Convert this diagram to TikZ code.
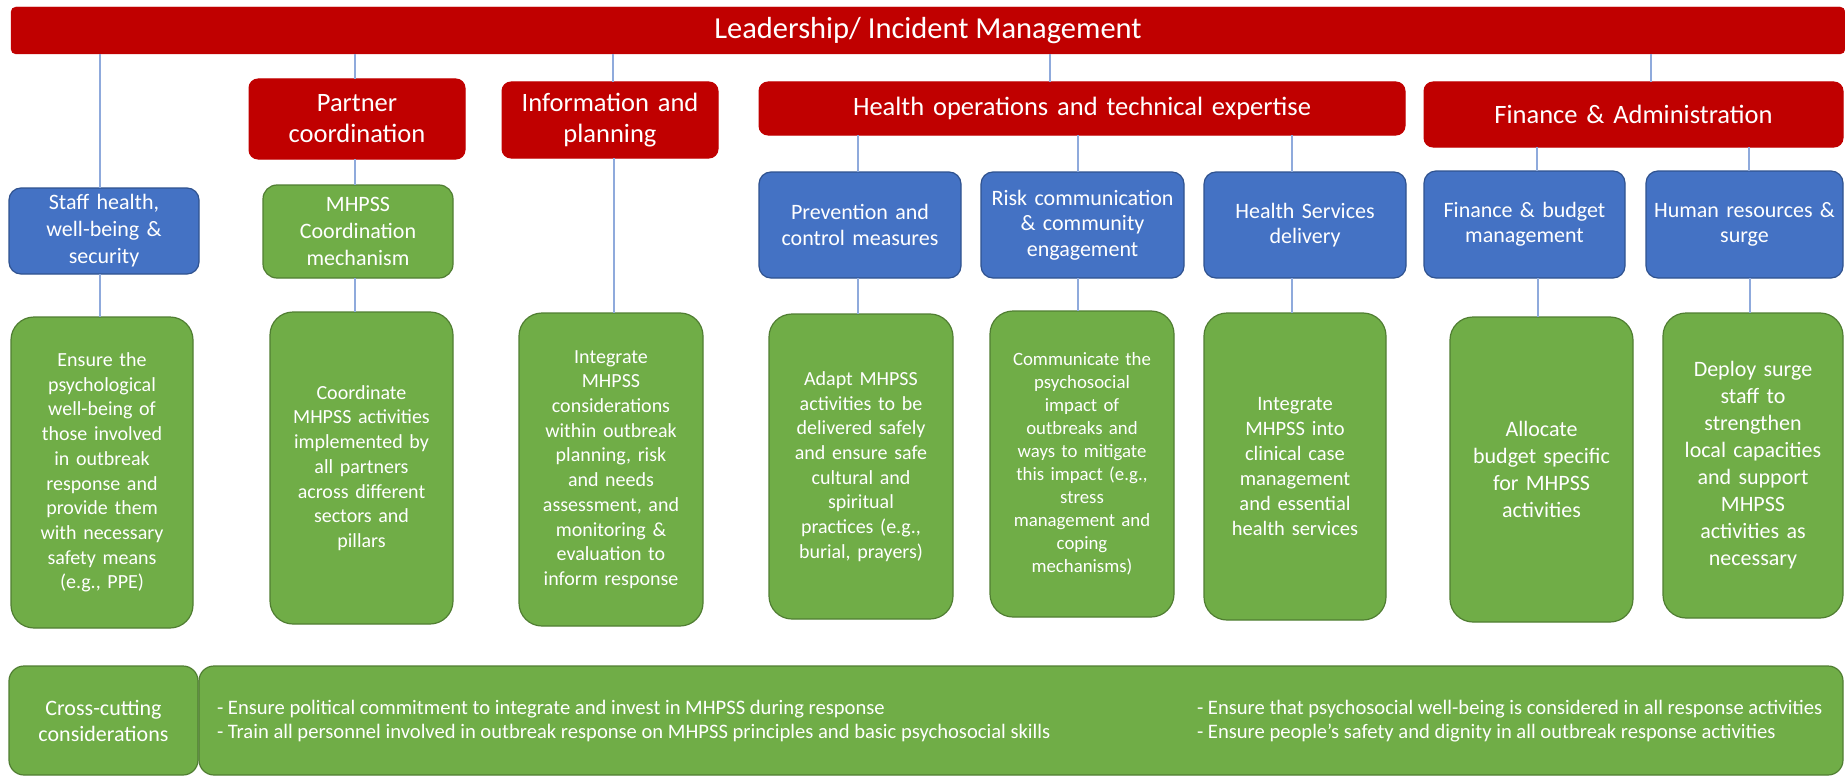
\documentclass[tikz,border=0pt]{standalone}
\usepackage{fontspec}
\setmainfont{Carlito}
\usetikzlibrary{calc}
\definecolor{ored}{HTML}{C00000}
\definecolor{oblue}{HTML}{4472C4}
\definecolor{oblueline}{HTML}{2F528F}
\definecolor{ogreen}{HTML}{70AD47}
\definecolor{ogreenline}{HTML}{507E32}
\definecolor{conncol}{HTML}{8FAADC}
\begin{document}
\begin{tikzpicture}[x=1pt,y=-1pt,
  every node/.style={inner sep=0pt, outer sep=0pt, text=white, align=center},
  redbox/.style={fill=ored, draw=ored, line width=1pt, rounded corners=9pt,
    font=\fontsize{26.5}{31}\selectfont},
  bluebox/.style={fill=oblue, draw=oblueline, line width=1.2pt, rounded corners=12pt,
    font=\fontsize{22}{25.5}\selectfont},
  greenhead/.style={fill=ogreen, draw=ogreenline, line width=1.2pt, rounded corners=14pt,
    font=\fontsize{22}{27}\selectfont},
  greentall/.style={fill=ogreen, draw=ogreenline, line width=1.2pt, rounded corners=23pt,
    font=\fontsize{20}{24.7}\selectfont},
  greenlow/.style={fill=ogreen, draw=ogreenline, line width=1.2pt, rounded corners=15pt,
    font=\fontsize{22}{26}\selectfont},
  bottomtext/.style={fill=none, draw=none, align=left, anchor=west,
    font=\fontsize{20.6}{24.5}\selectfont},
  conn/.style={draw=conncol, line width=1.3pt}
]
\useasboundingbox (0,0) rectangle (1845,776);
\fill[white] (0,0) rectangle (1845,776);

% top bar
\node[fill=ored, draw=ored, rounded corners=5pt, minimum width=1834pt, minimum height=47pt,
  font=\fontsize{30.5}{36}\selectfont] (lead) at (928,30.5) {Leadership/ Incident Management};

% red second level
\node[redbox, minimum width=216pt, minimum height=80pt, text width=208pt] (partner) at (357,119) {Partner\\coordination};
\node[redbox, minimum width=216pt, minimum height=76pt, text width=208pt] (info) at (610,120) {Information and\\planning};
\node[redbox, minimum width=646pt, minimum height=53pt, text width=636pt] (healthops) at (1082,108.5) {Health operations and technical expertise};
\node[redbox, minimum width=419pt, minimum height=65pt, text width=410pt] (finadmin) at (1633.5,114.5) {Finance \& Administration};

% blue / header level
\node[bluebox, minimum width=190pt, minimum height=86pt, text width=184pt,
  font=\fontsize{22}{27}\selectfont] (staff) at (104,231) {Staff health,\\well-being \&\\security};
\node[greenhead, minimum width=190pt, minimum height=93pt, text width=184pt] (mhpsscoord) at (358,231.5) {MHPSS\\Coordination\\mechanism};
\node[bluebox, minimum width=202pt, minimum height=106pt, text width=196pt] (prevention) at (860,225) {Prevention and\\control measures};
\node[bluebox, minimum width=203pt, minimum height=106pt, text width=200pt] (riskcomm) at (1082.5,225) {Risk communication\\\& community\\engagement};
\node[bluebox, minimum width=202pt, minimum height=106pt, text width=196pt] (healthserv) at (1305,225) {Health Services\\delivery};
\node[bluebox, minimum width=201pt, minimum height=107pt, text width=196pt] (finbudget) at (1524.5,224.5) {Finance \& budget\\management};
\node[bluebox, minimum width=197pt, minimum height=107pt, text width=194pt] (hr) at (1744.5,224.5) {Human resources \&\\surge};

% green tall boxes
\node[greentall, minimum width=182pt, minimum height=311pt, text width=176pt] (ensure) at (102,472.5)
  {Ensure the\\psychological\\well-being of\\those involved\\in outbreak\\response and\\provide them\\with necessary\\safety means\\(e.g., PPE)};
\node[greentall, minimum width=183pt, minimum height=312pt, text width=177pt] (coordinate) at (361.5,468)
  {Coordinate\\MHPSS activities\\implemented by\\all partners\\across different\\sectors and\\pillars};
\node[greentall, minimum width=184pt, minimum height=313pt, text width=178pt] (integrate) at (611,469.5)
  {Integrate\\MHPSS\\considerations\\within outbreak\\planning, risk\\and needs\\assessment, and\\monitoring \&\\evaluation to\\inform response};
\node[greentall, minimum width=184pt, minimum height=305pt, text width=178pt] (adapt) at (861,466.5)
  {Adapt MHPSS\\activities to be\\delivered safely\\and ensure safe\\cultural and\\spiritual\\practices (e.g.,\\burial, prayers)\\[10pt]};
\node[greentall, minimum width=184pt, minimum height=306pt, text width=178pt,
  font=\fontsize{18.8}{23}\selectfont] (communicate) at (1082,464)
  {Communicate the\\psychosocial\\impact of\\outbreaks and\\ways to mitigate\\this impact (e.g.,\\stress\\management and\\coping\\mechanisms)};
\node[greentall, minimum width=182pt, minimum height=307pt, text width=176pt,
  font=\fontsize{20.5}{25}\selectfont] (integratetwo) at (1295,466.5)
  {Integrate\\MHPSS into\\clinical case\\management\\and essential\\health services};
\node[greentall, minimum width=183pt, minimum height=305pt, text width=177pt,
  font=\fontsize{22}{27}\selectfont] (allocate) at (1541.5,469.5)
  {Allocate\\budget specific\\for MHPSS\\activities};
\node[greentall, minimum width=180pt, minimum height=305pt, text width=176pt,
  font=\fontsize{22}{27}\selectfont] (deploy) at (1753,465.5)
  {Deploy surge\\staff to\\strengthen\\local capacities\\and support\\MHPSS\\activities as\\necessary};

% bottom row
\node[greenlow, minimum width=189pt, minimum height=109pt, text width=183pt] (cross) at (103.5,720.5) {Cross-cutting\\considerations};
\node[greenlow, minimum width=1644pt, minimum height=109pt] (bottom) at (1021,720.5) {};
\node[bottomtext] (bleft) at (217,721) {- Ensure political commitment to integrate and invest in MHPSS during response\\- Train all personnel involved in outbreak response on MHPSS principles and basic psychosocial skills};
\node[bottomtext] (bright) at (1197,721) {- Ensure that psychosocial well-being is considered in all response activities\\- Ensure people’s safety and dignity in all outbreak response activities};

% connectors
\draw[conn] ([xshift=-4pt]staff.north) -- ([xshift=-4pt]staff.north |- lead.south);
\draw[conn] ([xshift=-2pt]ensure.north) -- ([xshift=-2pt]ensure.north |- staff.south);
\draw[conn] ([xshift=-2pt]partner.north) -- ([xshift=-2pt]partner.north |- lead.south);
\draw[conn] ([xshift=-3pt]mhpsscoord.north) -- ([xshift=-3pt]mhpsscoord.north |- partner.south);
\draw[conn] ([xshift=-6.5pt]coordinate.north) -- ([xshift=-6.5pt]coordinate.north |- mhpsscoord.south);
\draw[conn] ([xshift=3pt]info.north) -- ([xshift=3pt]info.north |- lead.south);
\draw[conn] ([xshift=3pt]integrate.north) -- ([xshift=3pt]integrate.north |- info.south);
\draw[conn] ([xshift=-32pt]healthops.north) -- ([xshift=-32pt]healthops.north |- lead.south);
\draw[conn] ([xshift=-2pt]prevention.north) -- ([xshift=-2pt]prevention.north |- healthops.south);
\draw[conn] ([xshift=-3pt]adapt.north) -- ([xshift=-3pt]adapt.north |- prevention.south);
\draw[conn] ([xshift=-4.5pt]riskcomm.north) -- ([xshift=-4.5pt]riskcomm.north |- healthops.south);
\draw[conn] ([xshift=-4pt]communicate.north) -- ([xshift=-4pt]communicate.north |- riskcomm.south);
\draw[conn] ([xshift=-13pt]healthserv.north) -- ([xshift=-13pt]healthserv.north |- healthops.south);
\draw[conn] ([xshift=-3pt]integratetwo.north) -- ([xshift=-3pt]integratetwo.north |- healthserv.south);
\draw[conn] ([xshift=17.5pt]finadmin.north) -- ([xshift=17.5pt]finadmin.north |- lead.south);
\draw[conn] ([xshift=12.5pt]finbudget.north) -- ([xshift=12.5pt]finbudget.north |- finadmin.south);
\draw[conn] ([xshift=-3.5pt]allocate.north) -- ([xshift=-3.5pt]allocate.north |- finbudget.south);
\draw[conn] ([xshift=4.5pt]hr.north) -- ([xshift=4.5pt]hr.north |- finadmin.south);
\draw[conn] ([xshift=-3pt]deploy.north) -- ([xshift=-3pt]deploy.north |- hr.south);
\end{tikzpicture}
\end{document}
